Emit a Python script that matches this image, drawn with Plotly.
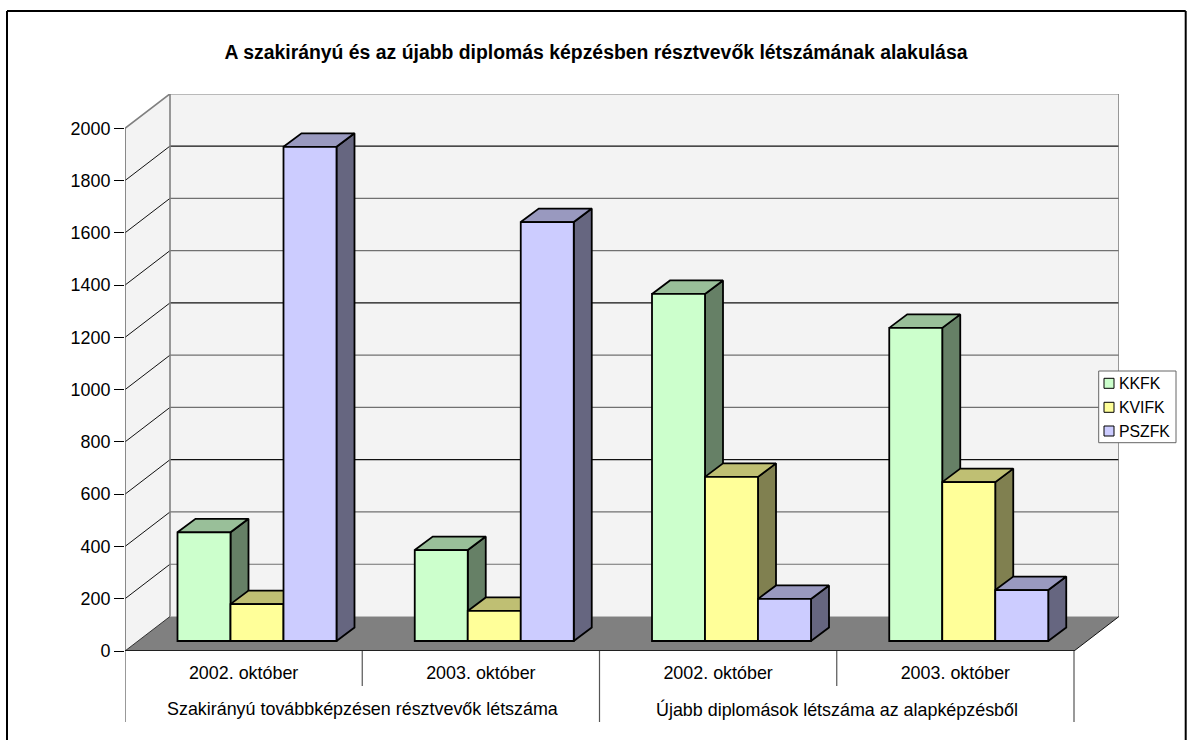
import plotly.graph_objects as go

# ---- data ----
months = ["2002. október", "2003. október", "2002. október", "2003. október"]
groups = ["Szakirányú továbbképzésen résztvevők létszáma",
          "Újabb diplomások létszáma az alapképzésből"]
series_names = ["KKFK", "KVIFK", "PSZFK"]
kkfk = [416, 348, 1328, 1198]
kvifk = [141, 115, 628, 608]
pszfk = [1891, 1603, 161, 195]
y_ticks = list(range(0, 2001, 200))
title_text = "A szakirányú és az újabb diplomás képzésben résztvevők létszámának alakulása"

front_colors = ["#CCFFCC", "#FFFF99", "#CCCCFF"]
top_colors = ["#99BF99", "#BFBF73", "#9999BF"]
side_colors = ["#668066", "#808050", "#666680"]

# ---- layout geometry (pixels) ----
W, H = 1188, 740
L, R, T, B = 125, 1119, 94, 651       # plot box: front-left .. back-right
CAT_PX = 237.25                       # width of one category on the front plane
UNIT_PX = 522.7 / 2000                # pixels per value unit
FONT = "Liberation Sans"
FS = 17.9
FS_TITLE = 19.4
FS_LEG = 15.8
EDGE = 1.8


def xu(px):
    return px / CAT_PX


def yu(px):
    return px / UNIT_PX


def fx(px):
    return (px - L) / (R - L)


def fy(px):
    return 1 - (px - T) / (B - T)


DEPTH_X, DEPTH_Y = xu(45), yu(34.5)
GAP_X, GAP_Y = xu(13.5), yu(10)
BAR_DX, BAR_DY = xu(18), yu(13.5)
BAR_W = xu(53)
BAR_START = xu(39)
n_cat = len(months)
x_max, y_max = xu(R - L), yu(B - T)

shapes = []


def poly(path_pts, fill):
    path = "M " + " L ".join(f"{a},{b}" for a, b in path_pts) + " Z"
    shapes.append(dict(type="path", path=path, xref="x", yref="y", layer="below",
                       fillcolor=fill, line=dict(width=0)))


# walls and floor
WALL = "#F3F3F3"
poly([(0, 0), (0, 2000), (DEPTH_X, 2000 + DEPTH_Y), (DEPTH_X, DEPTH_Y)], WALL)
poly([(DEPTH_X, DEPTH_Y), (DEPTH_X, 2000 + DEPTH_Y), (DEPTH_X + n_cat, 2000 + DEPTH_Y),
      (DEPTH_X + n_cat, DEPTH_Y)], WALL)
poly([(0, 0), (DEPTH_X, DEPTH_Y), (DEPTH_X + n_cat, DEPTH_Y), (n_cat, 0)], "#808080")

# gridlines
for i, v in enumerate(y_ticks[1:-1]):
    back_col = "#111111" if (len(y_ticks) - 3 - i) % 3 == 0 else "#707070"
    shapes.append(dict(type="line", xref="x", yref="y", layer="below",
                       x0=0, y0=v, x1=DEPTH_X, y1=v + DEPTH_Y,
                       line=dict(color="#111111", width=1)))
    shapes.append(dict(type="line", xref="x", yref="y", layer="below",
                       x0=DEPTH_X, y0=v + DEPTH_Y, x1=DEPTH_X + n_cat, y1=v + DEPTH_Y,
                       line=dict(color=back_col, width=1.2)))

fig = go.Figure()

# wall outline, axis and floor edges (may sit on the plot edge, so not clipped)
GRAY = "#808080"
outline = [
    ([0, DEPTH_X, DEPTH_X], [2000, 2000 + DEPTH_Y, DEPTH_Y], GRAY, 1.6),
    ([DEPTH_X, DEPTH_X + n_cat, DEPTH_X + n_cat],
     [2000 + DEPTH_Y, 2000 + DEPTH_Y, DEPTH_Y], GRAY, 1.6),
    ([0, 0], [0, 2000], "#666666", 1.5),
    ([0, DEPTH_X], [0, DEPTH_Y], "#333333", 1),
    ([n_cat, DEPTH_X + n_cat], [0, DEPTH_Y], "#111111", 1),
    ([0, n_cat], [0, 0], "#000000", 1.6),
]
for xs, ys, col, lw in outline:
    fig.add_trace(go.Scatter(x=xs, y=ys, mode="lines", cliponaxis=False, hoverinfo="skip",
                             showlegend=False, line=dict(color=col, width=lw)))

# depth faces of the bars, painted series by series
values = [kkfk, kvifk, pszfk]
for s, vals in enumerate(values):
    tx, ty, sx, sy = [], [], [], []
    for c, v in enumerate(vals):
        x0 = c + BAR_START + GAP_X + s * BAR_W
        x1 = x0 + BAR_W
        top = GAP_Y + v
        tx += [x0, x0 + BAR_DX, x1 + BAR_DX, x1, x0, None]
        ty += [top, top + BAR_DY, top + BAR_DY, top, top, None]
        sx += [x1, x1 + BAR_DX, x1 + BAR_DX, x1, x1, None]
        sy += [top, top + BAR_DY, GAP_Y + BAR_DY, GAP_Y, top, None]
    for xs, ys, col in ((sx, sy, side_colors[s]), (tx, ty, top_colors[s])):
        fig.add_trace(go.Scatter(x=xs, y=ys, mode="lines", fill="toself", fillcolor=col,
                                 line=dict(color="#000000", width=EDGE), hoverinfo="skip",
                                 showlegend=False))

# front faces of the bars, on an overlaid subplot so they cover the depth faces
for s, vals in enumerate(values):
    fig.add_trace(go.Bar(
        name=series_names[s],
        x=[c + BAR_START + GAP_X + (s + 0.5) * BAR_W for c in range(n_cat)],
        y=vals, base=GAP_Y, width=BAR_W,
        marker=dict(color=front_colors[s], line=dict(color="#000000", width=EDGE)),
        xaxis="x2", yaxis="y2", showlegend=False))

# category separators
SEP = "#555555"
for i in range(n_cat + 1):
    bottom = 722 if i % 2 == 0 else 686
    shapes.append(dict(type="line", xref="x", yref="paper", x0=i, x1=i,
                       y0=fy(651), y1=fy(bottom), line=dict(color=SEP, width=1.2)))

# outer frame (the bottom runs off the page)
FRAME = dict(color="#000000", width=2)
for a, b, c, d in ((7, 11, 1185.7, 11), (7, 11, 7, 760), (1185.7, 11, 1185.7, 760)):
    shapes.append(dict(type="line", xref="paper", yref="paper",
                       x0=fx(a), y0=fy(b), x1=fx(c), y1=fy(d), line=FRAME))

# legend box
shapes.append(dict(type="rect", xref="paper", yref="paper", x0=fx(1098.7), x1=fx(1176),
                   y0=fy(371), y1=fy(442.7), fillcolor="#FFFFFF",
                   line=dict(color="#666666", width=1)))
annotations = []
LEG_ROWS = [383.3, 407.3, 431]
for s, name in enumerate(series_names):
    r = LEG_ROWS[s]
    shapes.append(dict(type="rect", xref="paper", yref="paper", x0=fx(1104), x1=fx(1114),
                       y0=fy(r - 5), y1=fy(r + 5), fillcolor=front_colors[s],
                       line=dict(color="#000000", width=1)))
    annotations.append(dict(text=name, xref="paper", yref="paper", x=fx(1116.5), y=fy(r),
                            xanchor="left", yanchor="middle", showarrow=False,
                            font=dict(family=FONT, size=FS_LEG, color="#000000")))

for g, name in enumerate(groups):
    annotations.append(dict(text=name, xref="x", yref="paper", x=2 * g + 1, y=fy(709),
                            xanchor="center", yanchor="middle", showarrow=False,
                            font=dict(family=FONT, size=FS, color="#000000")))

fig.update_layout(
    width=W, height=H, autosize=False,
    margin=dict(l=L, r=W - R, t=T, b=H - B, pad=0),
    paper_bgcolor="#FFFFFF", plot_bgcolor="rgba(0,0,0,0)",
    showlegend=False, shapes=shapes, annotations=annotations,
    barmode="overlay",
    font=dict(family=FONT, size=FS, color="#000000"),
    title=dict(text=f"<b>{title_text}</b>", xref="paper", yref="container",
               x=fx(596), xanchor="center", y=1 - 52 / H, yanchor="middle",
               font=dict(family=FONT, size=FS_TITLE, color="#000000")),
    xaxis=dict(range=[0, x_max], tickmode="array", tickvals=[i + 0.5 for i in range(n_cat)],
               ticktext=months, ticks="outside", ticklen=6, tickcolor="rgba(0,0,0,0)",
               showgrid=False, zeroline=False, showline=False, tickangle=0),
    yaxis=dict(range=[0, y_max], tickmode="array", tickvals=y_ticks,
               ticktext=[str(v) for v in y_ticks], ticks="outside", ticklen=10, tickwidth=1,
               tickcolor="#000000", showgrid=False, zeroline=False, showline=False),
    xaxis2=dict(range=[0, x_max], overlaying="x", visible=False),
    yaxis2=dict(range=[0, y_max], overlaying="y", visible=False),
)

fig.write_html("out.html", config={"displayModeBar": False},
               post_script="document.body.style.margin='0';document.body.style.overflow='hidden';")
